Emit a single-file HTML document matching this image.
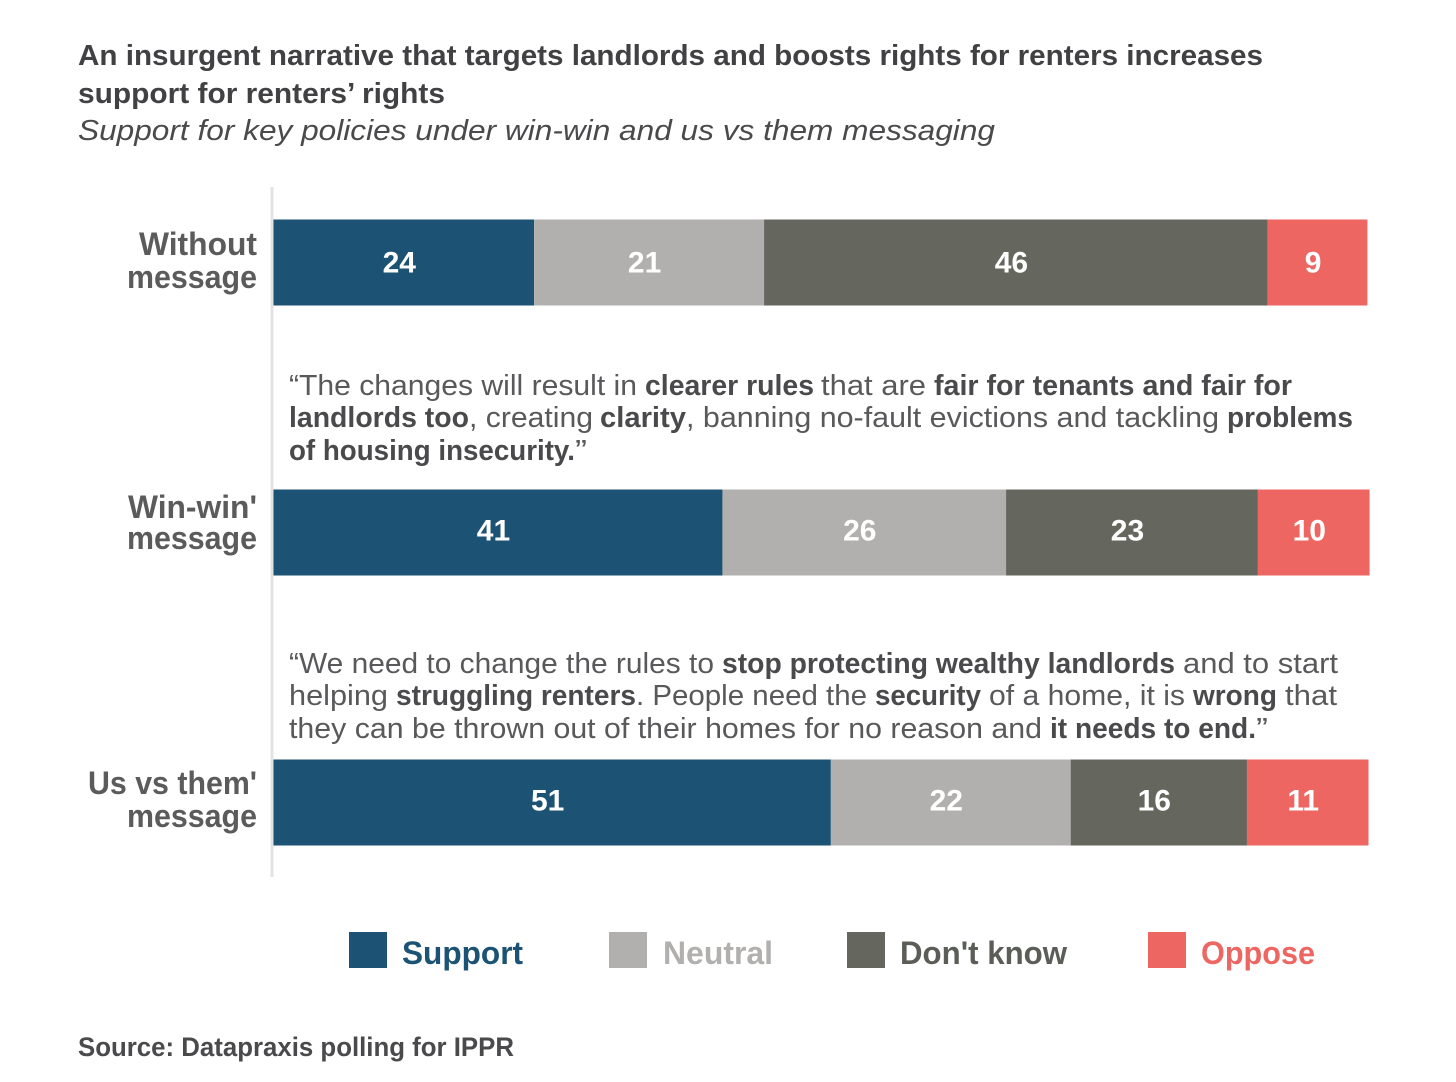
<!DOCTYPE html>
<html lang="en">
<head>
<meta charset="utf-8">
<title>Support for renters' rights</title>
<style>
  html, body { margin: 0; padding: 0; background: #fff; }
  svg { display: block; font-family: "Liberation Sans", sans-serif; }
  .title { font-size: 29px; font-weight: 700; fill: #414042; }
  .subtitle { font-size: 29px; font-style: italic; fill: #4a4a4c; }
  .cat { font-size: 32px; font-weight: 700; fill: #5b5b5b; }
  .quote { font-size: 29px; fill: #59595b; }
  .quote.b { font-weight: 700; fill: #4a4a4c; }
  .val { font-size: 30px; font-weight: 700; fill: #fff; text-anchor: middle; }
  .leg { font-size: 32px; font-weight: 700; }
  .src { font-size: 27px; font-weight: 700; fill: #4a4a4c; }
</style>
</head>
<body>
<svg id="chart" xmlns="http://www.w3.org/2000/svg" width="1456" height="1082" viewBox="0 0 1456 1082">
  <text class="title" x="78" y="65" textLength="1185" lengthAdjust="spacingAndGlyphs">An insurgent narrative that targets landlords and boosts rights for renters increases</text>
  <text class="title" x="78" y="103" textLength="367" lengthAdjust="spacingAndGlyphs">support for renters’ rights</text>
  <text class="subtitle" x="78" y="140" textLength="917" lengthAdjust="spacingAndGlyphs">Support for key policies under win-win and us vs them messaging</text>

  <line x1="272" y1="187" x2="272" y2="877" stroke="#e3e3e3" stroke-width="3"></line>

  <text class="cat" x="257" y="255" text-anchor="end" textLength="118" lengthAdjust="spacingAndGlyphs">Without</text>
  <text class="cat" x="257" y="288" text-anchor="end" textLength="130" lengthAdjust="spacingAndGlyphs">message</text>
  <text class="cat" x="257" y="518" text-anchor="end" textLength="129" lengthAdjust="spacingAndGlyphs">Win-win'</text>
  <text class="cat" x="257" y="549" text-anchor="end" textLength="130" lengthAdjust="spacingAndGlyphs">message</text>
  <text class="cat" x="257" y="794" text-anchor="end" textLength="169" lengthAdjust="spacingAndGlyphs">Us vs them'</text>
  <text class="cat" x="257" y="827" text-anchor="end" textLength="130" lengthAdjust="spacingAndGlyphs">message</text>

  <g>
    <text class="quote" x="289" y="395" textLength="348" lengthAdjust="spacingAndGlyphs">“The changes will result in</text>
    <text class="quote b" x="645" y="395" textLength="169" lengthAdjust="spacingAndGlyphs">clearer rules</text>
    <text class="quote" x="821" y="395" textLength="105" lengthAdjust="spacingAndGlyphs">that are</text>
    <text class="quote b" x="934" y="395" textLength="358" lengthAdjust="spacingAndGlyphs">fair for tenants and fair for</text>

    <text class="quote b" x="289" y="427" textLength="180" lengthAdjust="spacingAndGlyphs">landlords too</text>
    <text class="quote" x="469" y="427" textLength="124" lengthAdjust="spacingAndGlyphs">, creating</text>
    <text class="quote b" x="600" y="427" textLength="86" lengthAdjust="spacingAndGlyphs">clarity</text>
    <text class="quote" x="686" y="427" textLength="533" lengthAdjust="spacingAndGlyphs">, banning no-fault evictions and tackling</text>
    <text class="quote b" x="1227" y="427" textLength="126" lengthAdjust="spacingAndGlyphs">problems</text>

    <text class="quote b" x="289" y="460" textLength="286" lengthAdjust="spacingAndGlyphs">of housing insecurity.</text>
    <text class="quote" x="575" y="460" textLength="12" lengthAdjust="spacingAndGlyphs">”</text>
  </g>

  <g>
    <text class="quote" x="289" y="673" textLength="425" lengthAdjust="spacingAndGlyphs">“We need to change the rules to</text>
    <text class="quote b" x="722" y="673" textLength="453" lengthAdjust="spacingAndGlyphs">stop protecting wealthy landlords</text>
    <text class="quote" x="1183" y="673" textLength="155" lengthAdjust="spacingAndGlyphs">and to start</text>

    <text class="quote" x="289" y="705" textLength="99" lengthAdjust="spacingAndGlyphs">helping</text>
    <text class="quote b" x="396" y="705" textLength="240" lengthAdjust="spacingAndGlyphs">struggling renters</text>
    <text class="quote" x="636" y="705" textLength="231" lengthAdjust="spacingAndGlyphs">. People need the</text>
    <text class="quote b" x="875" y="705" textLength="106" lengthAdjust="spacingAndGlyphs">security</text>
    <text class="quote" x="989" y="705" textLength="196" lengthAdjust="spacingAndGlyphs">of a home, it is</text>
    <text class="quote b" x="1193" y="705" textLength="84" lengthAdjust="spacingAndGlyphs">wrong</text>
    <text class="quote" x="1285" y="705" textLength="52" lengthAdjust="spacingAndGlyphs">that</text>

    <text class="quote" x="289" y="738" textLength="753" lengthAdjust="spacingAndGlyphs">they can be thrown out of their homes for no reason and</text>
    <text class="quote b" x="1050" y="738" textLength="206" lengthAdjust="spacingAndGlyphs">it needs to end.</text>
    <text class="quote" x="1256" y="738" textLength="12" lengthAdjust="spacingAndGlyphs">”</text>
  </g>

  <g id="bars"></g>

  <rect x="349" y="932" width="38" height="36" fill="#1c5274"></rect>
  <text class="leg" x="402" y="964" fill="#1c5274" textLength="121" lengthAdjust="spacingAndGlyphs">Support</text>
  <rect x="609" y="932" width="38" height="36" fill="#b1b0ae"></rect>
  <text class="leg" x="663" y="964" fill="#b1b0ae" textLength="110" lengthAdjust="spacingAndGlyphs">Neutral</text>
  <rect x="847" y="932" width="38" height="36" fill="#65675f"></rect>
  <text class="leg" x="900" y="964" fill="#5b5d57" textLength="167" lengthAdjust="spacingAndGlyphs">Don't know</text>
  <rect x="1148" y="932" width="38" height="36" fill="#ee6662"></rect>
  <text class="leg" x="1201" y="964" fill="#ee6662" textLength="114" lengthAdjust="spacingAndGlyphs">Oppose</text>

  <text class="src" x="78" y="1056" textLength="436" lengthAdjust="spacingAndGlyphs">Source: Datapraxis polling for IPPR</text>
</svg>
<script>
const categories = ["Without message", "Win-win' message", "Us vs them' message"];
const support = [23.8, 41, 50.9];
const neutral = [21, 25.9, 21.9];
const dontKnow = [46, 23, 16.1];
const oppose = [9.1, 10.2, 11.1];

const NS = "http://www.w3.org/2000/svg";
const seriesList = [
  { key: "support", values: support, color: "#1c5274" },
  { key: "neutral", values: neutral, color: "#b1b0ae" },
  { key: "dont-know", values: dontKnow, color: "#65675f" },
  { key: "oppose", values: oppose, color: "#ee6662" }
];
const plotLeft = 273.5;
const pxPerUnit = 10.95;
const bandTops = [219.5, 489.5, 759.5];
const labelOffsets = [53, 51, 51];
const bandHeight = 86;
const xScale = v => plotLeft + v * pxPerUnit;
const yScale = i => bandTops[i];
const bars = document.getElementById("bars");

categories.forEach((cat, i) => {
  let cum = 0;
  seriesList.forEach(s => {
    const v = s.values[i];
    const x0 = xScale(cum);
    const x1 = xScale(cum + v);
    const rect = document.createElementNS(NS, "rect");
    rect.setAttribute("x", x0);
    rect.setAttribute("y", yScale(i));
    rect.setAttribute("width", x1 - x0);
    rect.setAttribute("height", bandHeight);
    rect.setAttribute("fill", s.color);
    
    
    bars.appendChild(rect);
    const label = document.createElementNS(NS, "text");
    label.setAttribute("class", "val");
    label.setAttribute("x", (x0 + x1) / 2 - 4.5);
    label.setAttribute("y", yScale(i) + labelOffsets[i]);
    label.textContent = Math.round(v);
    
    
    bars.appendChild(label);
    cum += v;
  });
});
</script>
</body>
</html>
